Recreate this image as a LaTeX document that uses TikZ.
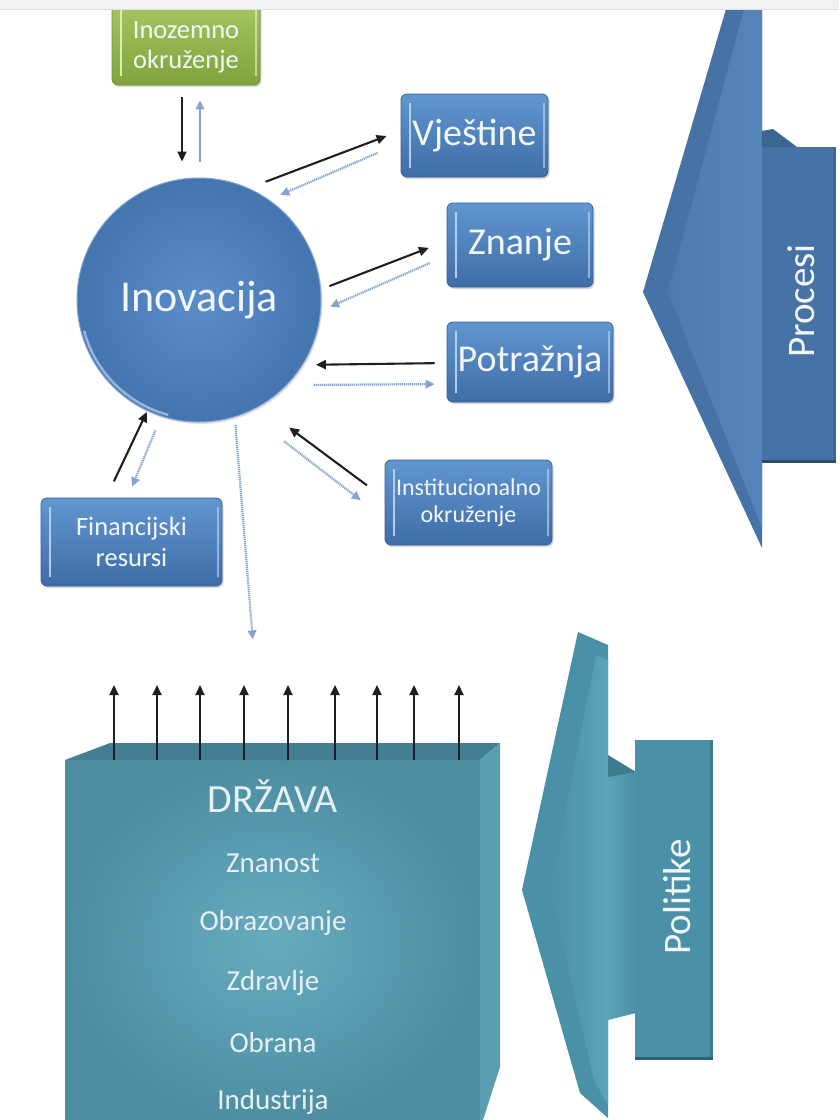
\documentclass[tikz,border=0pt]{standalone}
\usepackage{fontspec}
\setmainfont{Carlito}
\usetikzlibrary{arrows.meta,shadows}
\definecolor{boxtop}{HTML}{6196D1}
\definecolor{boxbot}{HTML}{3E6DA6}
\definecolor{boxline}{HTML}{35609A}
\definecolor{hlc}{HTML}{B3CDEB}
\definecolor{txtc}{HTML}{F2F6FB}
\definecolor{grtop}{HTML}{A8C862}
\definecolor{grbot}{HTML}{80A33C}
\definecolor{grline}{HTML}{6E8E34}
\definecolor{grhl}{HTML}{DCEBB8}
\definecolor{circin}{HTML}{5B8DC9}
\definecolor{circout}{HTML}{4575AF}
\definecolor{circline}{HTML}{7FA5D6}
\definecolor{rimc}{HTML}{A9C4E6}
\definecolor{dotc}{HTML}{86A3CF}
\definecolor{procdark}{HTML}{4672A5}
\definecolor{procmid}{HTML}{4D7BAE}
\definecolor{proclight}{HTML}{5585B8}
\definecolor{procbev}{HTML}{3C6593}
\definecolor{tealdark}{HTML}{4A90A7}
\definecolor{teallight}{HTML}{5AA3B9}
\definecolor{tealbev}{HTML}{3B7C90}
\definecolor{drzin}{HTML}{68ABBF}
\definecolor{drzout}{HTML}{4C8DA2}
\definecolor{drztop}{HTML}{427F92}
\definecolor{drzside}{HTML}{5B9EB2}
\definecolor{drztxt}{HTML}{E6F0F3}
\begin{document}
\begin{tikzpicture}[x=1pt,y=-1pt,
  hlines/.style={path picture={
     \draw[#1, line width=2pt] ([xshift=9pt,yshift=-9pt]path picture bounding box.north west) -- ([xshift=9pt,yshift=9pt]path picture bounding box.south west);
     \draw[#1, line width=1.5pt, opacity=0.7] ([xshift=-4pt,yshift=-9pt]path picture bounding box.north east) -- ([xshift=-4pt,yshift=9pt]path picture bounding box.south east);}},
  bbox/.style={rectangle, rounded corners=6pt, draw=boxline, line width=0.8pt,
     top color=boxtop, bottom color=boxbot, text=txtc, inner sep=0pt, align=center,
     drop shadow={opacity=0.3,shadow xshift=1.5pt,shadow yshift=-2pt}, hlines=hlc},
  gbox/.style={rectangle, rounded corners=6pt, draw=grline, line width=0.8pt,
     top color=grtop, bottom color=grbot, inner sep=0pt,
     drop shadow={opacity=0.3,shadow xshift=1.5pt,shadow yshift=-2pt}, hlines=grhl},
  blk/.style={-{Triangle[length=10pt,width=9pt]}, line width=2.1pt, black!88},
  dot/.style={-{Triangle[length=9pt,width=8.5pt]}, line width=2.2pt, dotc, dash pattern=on 1.2pt off 0.8pt},
  rottxt/.style={rotate=90, text=txtc, inner sep=0pt, font=\fontsize{39}{42}\selectfont},
  drzlbl/.style={text=drztxt, inner sep=0pt, font=\fontsize{29}{32}\selectfont}
]
\useasboundingbox (0,0) rectangle (839,1120);
\fill[white] (0,0) rectangle (839,1120);
\begin{scope}
\clip (0,9) rectangle (839,1120);

% ---------- Procesi ----------
\fill[procdark] (726,9) -- (762,9) -- (762,548) -- (643,292) -- cycle;
\shade[left color=procmid, right color=proclight] (744,9) -- (762,9) -- (762,528) -- (668,292) -- cycle;
\shade[left color=procdark, middle color=proclight, right color=procdark] (762,147) rectangle (835,460);
\fill[procbev] (762,147) -- (762,131) -- (773,129) -- (797,147) -- cycle;
\fill[procbev!75!black] (762,460) rectangle (836,463);
\fill[procbev] (833,147) rectangle (836,460);
\node[rottxt] (proc) at (801,301) {Procesi};

% ---------- Politike ----------
\fill[tealdark] (578,632) -- (608,645) -- (608,1118) -- (580,1093) -- (522,890) -- cycle;
\shade[left color=tealdark, right color=teallight] (596,655) -- (608,660) -- (608,1105) -- (594,1080) -- (550,890) -- cycle;
\shade[left color=teallight, right color=tealdark] (608,772) -- (636,772) -- (636,1013) -- (608,1020) -- cycle;
\fill[tealbev] (608,755) -- (636,772) -- (608,777) -- cycle;
\shade[left color=tealdark, middle color=teallight, right color=tealdark] (635,740) rectangle (712,1057);
\fill[tealbev!80!black] (635,1057) rectangle (713,1060);
\fill[tealbev] (710,740) rectangle (713,1057);
\node[rottxt] (pol) at (677,897) {Politike};

% ---------- DRZAVA ----------
\node[rectangle, inner sep=0pt, outer sep=0pt, minimum width=415pt, minimum height=365pt,
      inner color=drzin, outer color=drzout] (drz) at (272.5,942.5) {};
\fill[drztop] (drz.north west) -- ++(45,-17) -- ++(390,0) -- (drz.north east) -- cycle;
\fill[drzside] (drz.north east) -- ++(20,-17) -- ++(0,324) -- ++(-17,53) -- (drz.south east) -- cycle;
\node[drzlbl, font=\fontsize{40}{44}\selectfont] (drzt) at (273,796) {DRŽAVA};
\node[drzlbl] (znan) at (273,863) {Znanost};
\node[drzlbl] (obraz) at (273,923) {Obrazovanje};
\node[drzlbl] (zdrav) at (273,983) {Zdravlje};
\node[drzlbl] (obr) at (273,1043) {Obrana};
\node[drzlbl] (ind) at (273,1102) {Industrija};
\foreach \dx in {-158.5,-115.5,-72.5,-28.5,15.5,62.5,104.5,141.5,186.5}
  \draw[blk] ([xshift=\dx pt]drz.north) -- ++(0,-75);

% ---------- top boxes ----------
\node[gbox, minimum width=148pt, minimum height=87pt] (ino) at (186,41.5) {};
\node[text=txtc, inner sep=0pt, align=center, font=\fontsize{26.5}{30}\selectfont] (inotxt) at ([yshift=-5.5pt]ino.center) {Inozemno\\okruženje};

\node[circle, minimum size=244pt, inner sep=0pt, inner color=circin, outer color=circout,
      draw=circline, line width=1pt, text=txtc, font=\fontsize{44}{48}\selectfont,
      drop shadow={opacity=0.25,shadow xshift=1.5pt,shadow yshift=-2pt}] (inov) at (199,300) {Inovacija};
\draw[rimc, line width=2.5pt, opacity=0.8] (inov.center) ++(165:119) arc[start angle=165, end angle=105, radius=119];

\node[bbox, minimum width=147pt, minimum height=83pt, font=\fontsize{38}{42}\selectfont] (vje) at (474.5,135.5) {Vještine};
\node[bbox, minimum width=146pt, minimum height=84pt, font=\fontsize{38}{42}\selectfont] (zna) at (520,245) {Znanje};
\node[bbox, minimum width=166pt, minimum height=80pt, font=\fontsize{38}{42}\selectfont] (pot) at (530,362) {Potražnja};
\node[bbox, minimum width=167pt, minimum height=85pt, font=\fontsize{24}{27}\selectfont] (inst) at (468.5,502.5) {Institucionalno\\okruženje};
\node[bbox, minimum width=181pt, minimum height=88pt, font=\fontsize{26.5}{31}\selectfont] (fin) at (131.5,542) {Financijski\\resursi};

% ---------- connectors ----------
\draw[blk, shorten <=12pt, shorten >=16pt] ([xshift=-4pt]ino.south) -- ([xshift=-17pt]inov.north);
\draw[dot, shorten <=16pt, shorten >=15pt] ([xshift=1pt]inov.north) -- ([xshift=14pt]ino.south);

\draw[blk, shorten <=18pt, shorten >=15pt] (inov.66) -- ([yshift=4.8pt]vje.west);
\draw[dot, shorten <=25pt, shorten >=12pt] ([yshift=-7.5pt]vje.west) -- (inov.55);

\draw[blk, shorten <=9pt, shorten >=19pt] (inov.5) -- ([yshift=4pt]zna.west);
\draw[dot, shorten <=18.5pt, shorten >=10pt] ([yshift=-10.7pt]zna.west) -- (inov.-5);

\draw[blk, shorten <=12pt, shorten >=13pt] ([yshift=-1pt]pot.west) -- (inov.-32);
\draw[dot, shorten <=26.5pt, shorten >=12pt] (inov.-44) -- ([yshift=-22pt]pot.west);

\draw[blk, shorten <=22pt, shorten >=36pt] ([yshift=4pt]inst.west) -- (inov.-60);
\draw[dot, shorten <=47pt, shorten >=30pt] (inov.-67) -- ([yshift=-16pt]inst.west);

\draw[blk, shorten <=18pt, shorten >=1pt] ([xshift=-25.3pt]fin.north) -- (inov.245);
\draw[dot, shorten <=15pt, shorten >=12pt] (inov.252) -- ([xshift=-4pt]fin.north);

\draw[dot, shorten <=8pt, shorten >=121pt] (inov.-73) -- ([xshift=-10pt]drz.north);
\end{scope}
\fill[black!5] (0,0) rectangle (839,9);
\draw[black!12, line width=0.8pt] (0,9) -- (839,9);
\end{tikzpicture}
\end{document}
